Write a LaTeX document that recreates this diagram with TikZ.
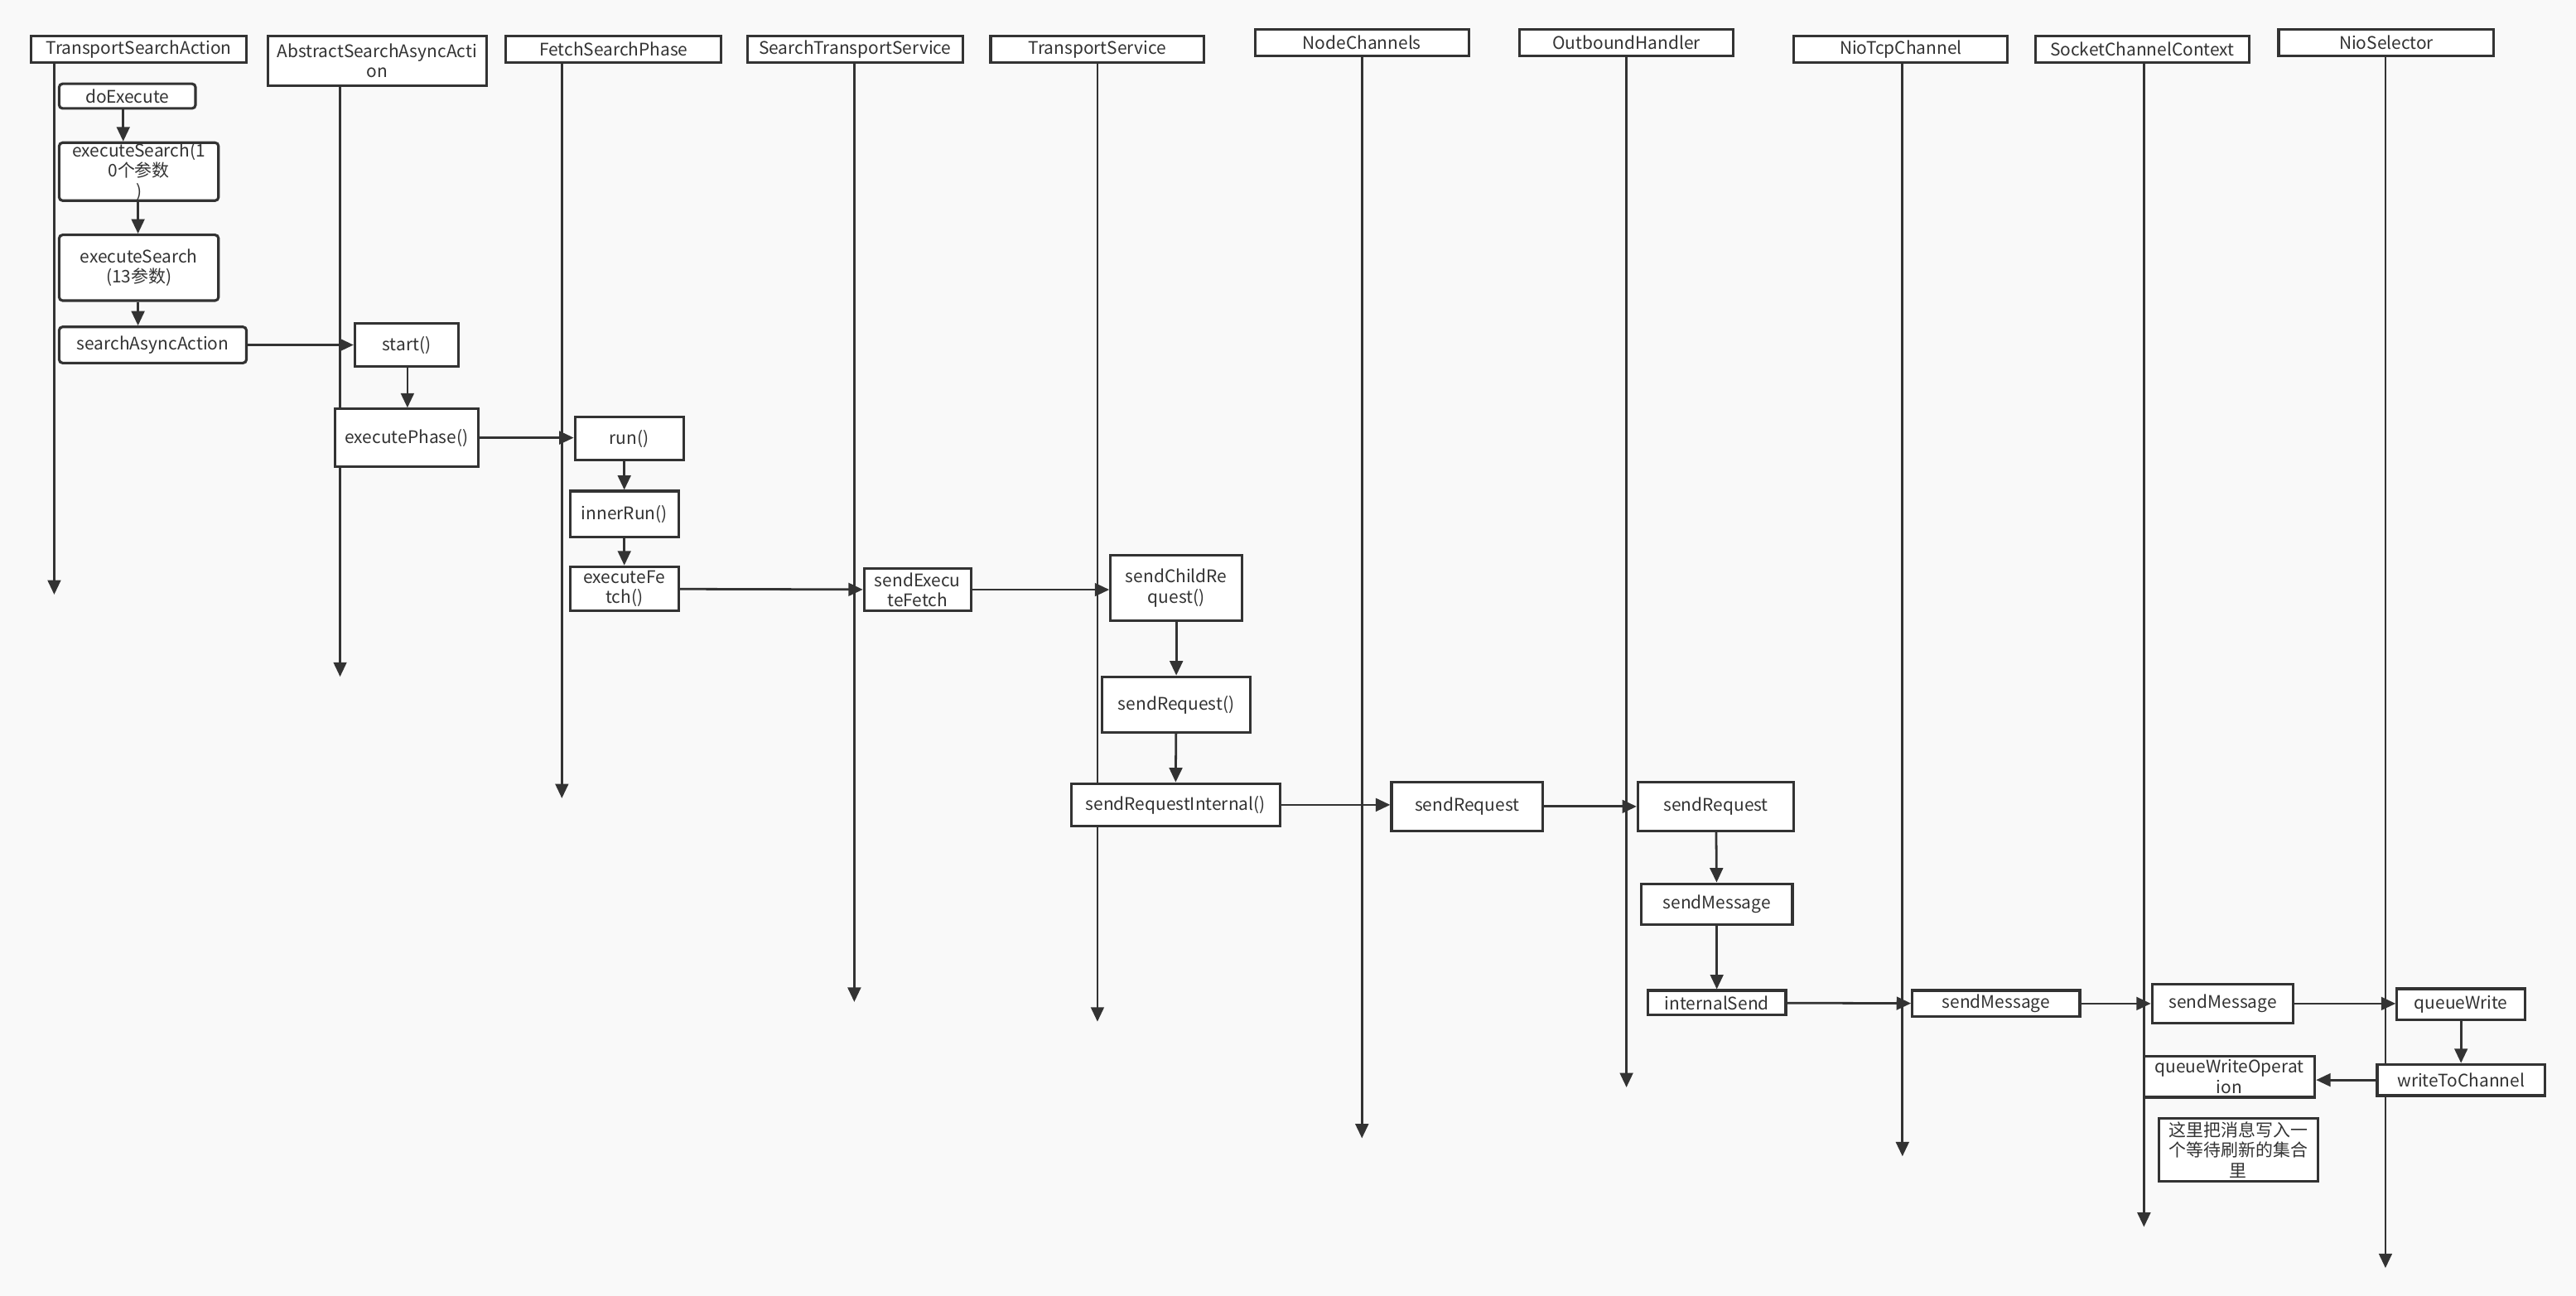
\documentclass[tikz,border=0pt]{standalone}
\usepackage{fontspec}
\setmainfont{Noto Sans CJK SC}
\usetikzlibrary{arrows.meta}
\definecolor{bg}{HTML}{F9F9F9}
\definecolor{ln}{HTML}{333333}
\newcommand\mybox[7][box]{\node[#1, minimum width={(#4-#2)*0.02cm}, minimum height={(#5-#3)*0.02cm}] (#6) at ({(#2+#4)/2},{(#3+#5)/2}) {#7};}
\begin{document}
\begin{tikzpicture}[x=0.02cm,y=-0.02cm,
  box/.style={draw=ln,line width=0.9pt,fill=white,inner sep=0pt,align=center,font=\fontsize{6}{7}\selectfont,text=ln},
  rbox/.style={box,rounded corners=1.2pt},
  arr/.style={draw=ln,line width=0.8pt,-{Triangle[length=5pt,width=4.5pt]}},
  life/.style={arr}]
\fill[bg] (0,0) rectangle (1568,789);
\useasboundingbox (0,0) rectangle (1568,789);
% lifelines coordinates
\coordinate (e1) at (33,362);
\coordinate (e2) at (207,412);
\coordinate (e3) at (342,486);
\coordinate (e4) at (520,610);
\coordinate (e5) at (668,622);
\coordinate (e6) at (829,693);
\coordinate (e7) at (990,662);
\coordinate (e8) at (1158,704);
\coordinate (e9) at (1305,747);
\coordinate (e10) at (1452,772);
% headers
\mybox{19}{22}{150}{38}{h1}{TransportSearchAction}
\mybox{163}{22}{296}{52}{h2}{AbstractSearchAsyncActi\\on}
\mybox{308}{22}{439}{38}{h3}{FetchSearchPhase}
\mybox{455}{22}{586}{38}{h4}{SearchTransportService}
\mybox{603}{22}{733}{38}{h5}{TransportService}
\mybox{764}{18}{894}{34}{h6}{NodeChannels}
\mybox{925}{18}{1055}{34}{h7}{OutboundHandler}
\mybox{1092}{22}{1222}{38}{h8}{NioTcpChannel}
\mybox{1239}{22}{1369}{38}{h9}{SocketChannelContext}
\mybox{1387}{18}{1518}{34}{h10}{NioSelector}
\foreach \i in {1,...,10} {\draw[life] (h\i.south -| e\i) -- (e\i);}
% boxes
\mybox[rbox]{36}{51}{119}{66}{de}{doExecute}
\mybox[rbox]{36}{88}{133}{121}{es1}{executeSearch(1\\0个参数\\)}
\mybox[rbox]{36}{143}{133}{183}{es2}{executeSearch\\(13参数)}
\mybox[rbox]{36}{199}{150}{221}{saa}{searchAsyncAction}
\mybox{216}{197}{279}{223}{st}{start()}
\mybox{204}{249}{291}{284}{ep}{executePhase()}
\mybox{350}{254}{416}{280}{run}{run()}
\mybox{347}{299}{413}{327}{ir}{innerRun()}
\mybox{347}{345}{413}{372}{ef}{executeFe\\tch()}
\mybox{526}{346}{591}{372}{sef}{sendExecu\\teFetch}
\mybox{676}{338}{756}{378}{scr}{sendChildRe\\quest()}
\mybox{671}{412}{761}{446}{sr}{sendRequest()}
\mybox{652}{477}{779}{503}{sri}{sendRequestInternal()}
\mybox{847}{476}{939}{506}{nsr}{sendRequest}
\mybox{997}{476}{1092}{506}{osr}{sendRequest}
\mybox{999}{538}{1091}{563}{osm}{sendMessage}
\mybox{1003}{603}{1087}{618}{is}{internalSend}
\mybox{1164}{603}{1266}{619}{tsm}{sendMessage}
\mybox{1310}{599}{1396}{623}{csm}{sendMessage}
\mybox{1459}{602}{1537}{621}{qw}{queueWrite}
\mybox{1447}{648}{1549}{667}{wtc}{writeToChannel}
\mybox{1305}{643}{1409}{668}{qwo}{queueWriteOperat\\ion}
\mybox{1314}{681}{1411}{719}{note}{这里把消息写入一\\个等待刷新的集合\\里}
% connectors
\coordinate (a1) at (75,0);
\draw[arr] (de.south -| a1) -- (es1.north -| a1);
\coordinate (a2) at (84,0);
\draw[arr] (es1.south -| a2) -- (es2.north -| a2);
\draw[arr] (es2.south -| a2) -- (saa.north -| a2);
\draw[arr] (saa) -- (st);
\coordinate (a3) at (248,0);
\draw[arr] (st.south -| a3) -- (ep.north -| a3);
\draw[arr] (ep.east) -- (ep.east -| run.west);
\coordinate (a4) at (380,0);
\draw[arr] (run.south -| a4) -- (ir.north -| a4);
\draw[arr] (ir.south -| a4) -- (ef.north -| a4);
\draw[arr] (ef) -- (sef);
\draw[arr] (sef.east) -- (sef.east -| scr.west);
\draw[arr] (scr) -- (sr);
\draw[arr] (sr) -- (sri);
\draw[arr] (sri.east) -- (sri.east -| nsr.west);
\draw[arr] (nsr) -- (osr);
\draw[arr] (osr) -- (osm);
\draw[arr] (osm) -- (is);
\draw[arr] (is) -- (tsm);
\draw[arr] (tsm.east) -- (tsm.east -| csm.west);
\draw[arr] (csm.east) -- (csm.east -| qw.west);
\draw[arr] (qw) -- (wtc);
\draw[arr] (wtc.west) -- (wtc.west -| qwo.east);
\end{tikzpicture}
\end{document}
